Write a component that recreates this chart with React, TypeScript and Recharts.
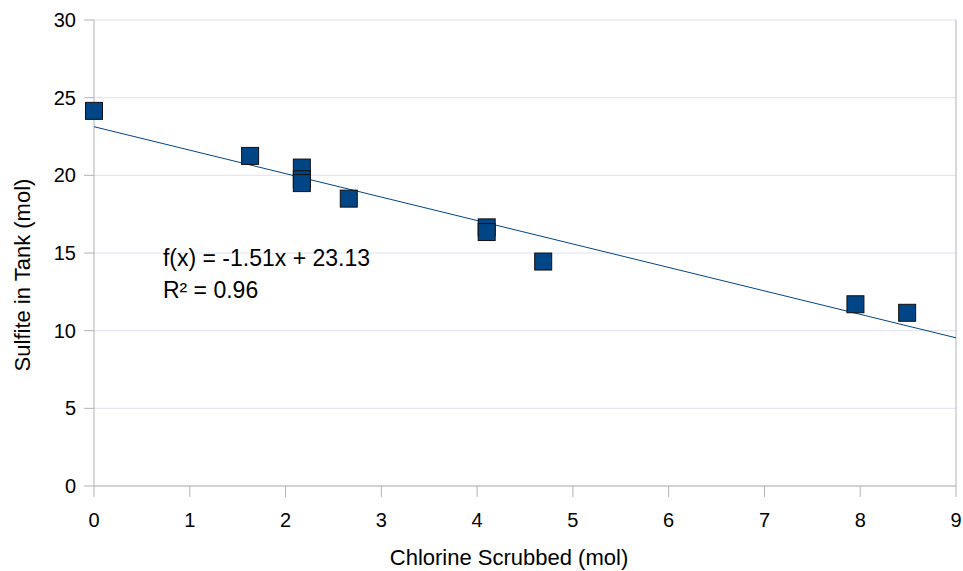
import React from 'react';
import {
    ScatterChart,
    Scatter,
    XAxis,
    YAxis,
    CartesianGrid,
    ReferenceLine,
    ReferenceDot,
} from 'recharts';

// measured samples
const chlorineScrubbed = [0, 1.63, 2.17, 2.17, 2.17, 2.66, 4.1, 4.1, 4.69, 7.95, 8.49];
const sulfiteInTank = [24.15, 21.25, 20.5, 19.75, 19.5, 18.5, 16.65, 16.35, 14.45, 11.7, 11.15];

// linear fit
const slope = -1.51;
const intercept = 23.13;
const rSquared = 0.96;

const xTicks = [0, 1, 2, 3, 4, 5, 6, 7, 8, 9];
const yTicks = [0, 5, 10, 15, 20, 25, 30];

const points = chlorineScrubbed.map((x, i) => ({ x, y: sulfiteInTank[i] }));
const trend = [0, 9].map((x) => ({ x, y: intercept + slope * x }));

const FONT = '"Liberation Sans", Arial, sans-serif';
const BLUE = '#004586';
const AXIS = '#b3b3b3';

const SquareMarker = (props: any) => {
    const s = 17;
    return (
        <rect
            x={props.cx - s / 2}
            y={props.cy - s / 2}
            width={s}
            height={s}
            fill={BLUE}
            stroke="#111"
            strokeWidth={1}
        />
    );
};

const fitLabel = (props: any) => {
    const { x, y } = props.viewBox;
    return (
        <text x={x} y={y} fontFamily={FONT} fontSize={23} fill="#000">
            <tspan x={x}>{`f(x) = ${slope.toFixed(2)}x + ${intercept.toFixed(2)}`}</tspan>
            <tspan x={x} dy={32}>{`R² = ${rSquared.toFixed(2)}`}</tspan>
        </text>
    );
};

const App = () => {
    return (
        <div style={{ position: 'absolute', left: 0, top: 0 }}>
            <ScatterChart
                width={963}
                height={571}
                margin={{ top: 20, right: 7, bottom: 0, left: 0 }}
                style={{ fontFamily: FONT }}
            >
                <CartesianGrid vertical={false} stroke="#e0e0f5" />
                <XAxis
                    type="number"
                    dataKey="x"
                    domain={[0, 9]}
                    ticks={xTicks}
                    height={85}
                    stroke={AXIS}
                    tickSize={11}
                    tickMargin={16}
                    tick={{ fill: '#000', fontSize: 20 }}
                    label={{
                        content: () => (
                            <text x={509} y={565} textAnchor="middle" fontSize={22} fill="#000">
                                Chlorine Scrubbed (mol)
                            </text>
                        ),
                    }}
                />
                <YAxis
                    type="number"
                    dataKey="y"
                    domain={[0, 30]}
                    ticks={yTicks}
                    width={94}
                    stroke={AXIS}
                    tickSize={10}
                    tickMargin={8}
                    tick={{ fill: '#000', fontSize: 20 }}
                    label={{
                        content: () => (
                            <text
                                transform="translate(30,275) rotate(-90)"
                                textAnchor="middle"
                                fontSize={22}
                                fill="#000"
                            >
                                Sulfite in Tank (mol)
                            </text>
                        ),
                    }}
                />
                <ReferenceLine x={9} stroke={AXIS} />
                <Scatter
                    data={trend}
                    line={{ stroke: BLUE, strokeWidth: 1 }}
                    lineType="joint"
                    shape={() => null}
                    isAnimationActive={false}
                />
                <Scatter data={points} shape={SquareMarker} isAnimationActive={false} />
                <ReferenceDot
                    x={0.72}
                    y={14.17}
                    r={0}
                    fill="none"
                    stroke="none"
                    label={{ content: fitLabel }}
                />
            </ScatterChart>
        </div>
    );
};

export default App;
